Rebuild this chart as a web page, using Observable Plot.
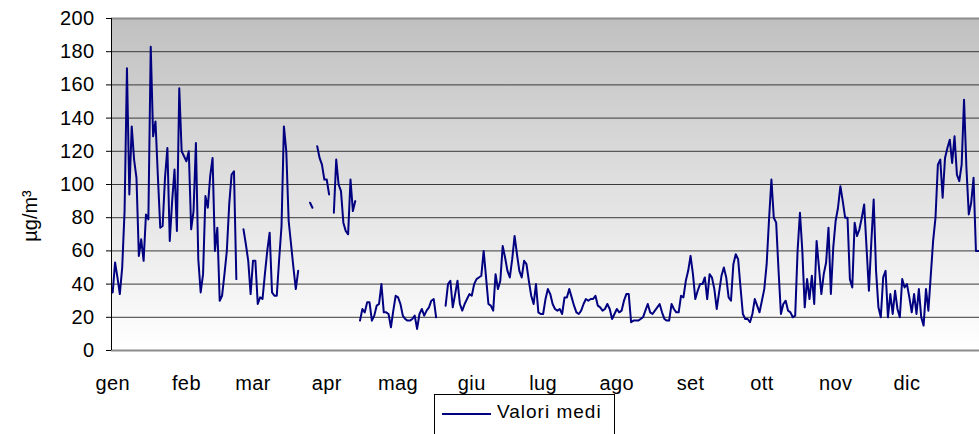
<!DOCTYPE html>
<html><head><meta charset="utf-8">
<script src="https://cdn.jsdelivr.net/npm/d3@7"></script>
<script src="https://cdn.jsdelivr.net/npm/@observablehq/plot@0.6"></script>
<style>
html,body{margin:0;padding:0;background:#fff;}
#wrap{position:relative;width:979px;height:434px;overflow:hidden;font-family:"Liberation Sans",Arial,sans-serif;color:#000;}
#wrap svg text{letter-spacing:0.4px;}
#ytitle{position:absolute;left:30px;top:216px;transform:translate(-50%,-50%) rotate(-90deg);font-size:20px;line-height:20px;white-space:nowrap;}
#legend{position:absolute;left:434px;top:394px;width:181px;height:60px;border:1px solid #000;box-sizing:border-box;background:#fff;}
#legend .sw{position:absolute;left:7px;top:17.5px;width:49px;height:0;border-top:2px solid #000080;}
#legend .lb{position:absolute;left:62px;top:6.5px;font-size:19px;line-height:19px;letter-spacing:1px;white-space:nowrap;}
</style>
</head><body>
<svg width="0" height="0" style="position:absolute"><defs>
<linearGradient id="bg" x1="0" y1="0" x2="0" y2="1">
<stop offset="0" stop-color="#c0c0c0"/><stop offset="1" stop-color="#ffffff"/>
</linearGradient></defs></svg>
<div id="wrap">
<div id="chart"></div>
<div id="ytitle">µg/m³</div>
<div id="legend"><div class="sw"></div><div class="lb">Valori medi</div></div>
</div>
<script>
const months = ["gen","feb","mar","apr","mag","giu","lug","ago","set","ott","nov","dic"];
const yTicks = [0,20,40,60,80,100,120,140,160,180,200];
const seriesName = "Valori medi";

// daily mean values (µg/m³), one array per month; null = missing day
const gen = [35,53,44,34,50,84,170,94,135,115,104,57,67,54,82,79,183,129,138,105,74,75,104,122,66,90,109,72,158,120,117];
const feb = [114,120,73,84,125,55,35,46,93,86,105,116,60,74,30,33,46,60,88,106,108,43,null,null,73,64,54,34];
const mar = [54,54,28,32,31,46,60,71,35,33,33,55,75,135,120,78,64,50,37,48,null,null,null,null,89,86,null,123,116,112,103];
const apr = [103,94,null,83,115,100,96,77,72,70,103,84,90,null,18,25,23,29,29,18,21,27,28,40,23,23,22,14,24,33];
const mag = [32,28,21,19,18,18,19,21,13,22,25,21,24,26,30,31,20,null,null,null,27,40,42,26,34,42,28,24,28,31,34];
const giu = [33,40,43,44,45,60,44,28,27,24,46,37,42,63,56,48,44,55,69,58,48,44,54,52,42,33,28,40,23,22];
const lug = [22,31,37,34,28,25,24,25,22,32,32,37,32,27,23,22,24,28,31,30,31,31,33,27,26,24,25,28,25,19,22];
const ago = [25,23,24,30,34,34,17,18,18,18,19,20,24,28,23,22,24,26,28,23,19,18,18,28,25,23,23,33,32,42,48];
const set = [57,46,31,36,40,40,44,31,46,44,37,25,35,45,50,44,32,30,52,58,55,38,22,19,19,17,22,31,27,23];
const ott = [30,37,52,79,103,80,77,48,22,28,30,24,23,20,21,60,83,60,26,43,31,45,28,66,50,34,46,53,74,34,62];
const nov = [78,86,99,90,80,80,43,38,77,69,73,80,88,62,36,65,91,48,26,20,44,48,20,34,22,36,25,20,43,38];
const dic = [40,32,23,34,22,37,20,15,37,24,45,66,80,112,115,92,116,122,127,113,129,106,102,112,151,110,82,89,104,60,60];

const monthly = [gen,feb,mar,apr,mag,giu,lug,ago,set,ott,nov,dic];
const monthStarts = [];
let acc = 0;
for (const m of monthly) { monthStarts.push(acc); acc += m.length; }
const data = monthly.flat().map((v, i) => ({day: i, value: v, series: seriesName}));

const chart = Plot.plot({
  width: 979,
  height: 400,
  marginLeft: 111,
  marginRight: 0,
  marginTop: 18,
  marginBottom: 50,
  style: {fontFamily: "Liberation Sans, Arial, sans-serif", fontSize: "20px", color: "#000", background: "transparent", overflow: "visible"},
  x: {domain: [-0.5, acc - 0.5], ticks: monthStarts, tickFormat: d => months[monthStarts.indexOf(d)], tickSize: 0, tickPadding: 25, label: null},
  y: {domain: [0, 200], ticks: yTicks, tickSize: 5, tickPadding: 12, label: null},
  marks: [
    Plot.frame({fill: "url(#bg)", stroke: "none"}),
    Plot.ruleY(yTicks.filter(t => t > 0 && t < 200), {stroke: "#3a3a3a", strokeWidth: 1}),
    Plot.ruleY([200], {stroke: "#8c8c8c", strokeWidth: 2}),
    Plot.ruleY([0], {stroke: "#8c8c8c", strokeWidth: 2}),
    Plot.ruleX([-0.5], {stroke: "#000", strokeWidth: 1}),
    Plot.line(data, {x: "day", y: "value", stroke: "#000080", strokeWidth: 2})
  ]
});
document.getElementById("chart").appendChild(chart);
</script>
</body></html>
